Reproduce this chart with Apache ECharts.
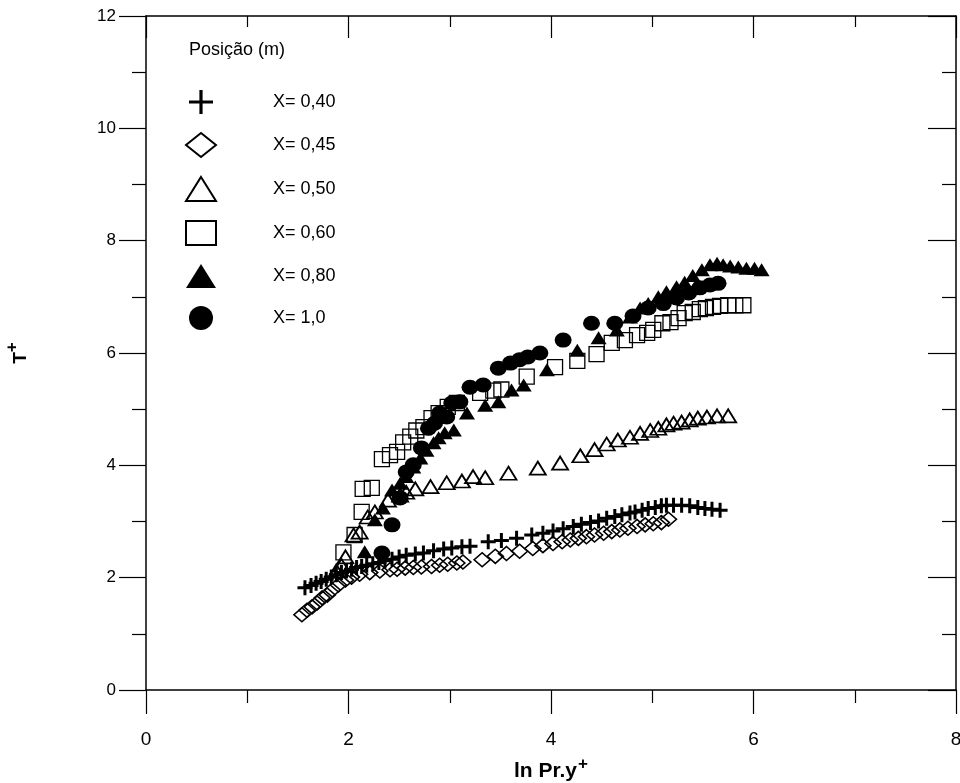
<!DOCTYPE html>
<html>
<head>
<meta charset="utf-8">
<script src="https://cdn.jsdelivr.net/npm/echarts@6/dist/echarts.min.js"></script>
<style>
  html, body { margin: 0; padding: 0; background: #fff; }
  #chart { width: 960px; height: 783px; }
</style>
</head>
<body>
<div id="chart"></div>
<script>
// [ln Pr.y+, T+]
const plus40 = [[1.57,1.82],[1.63,1.86],[1.68,1.90],[1.73,1.93],[1.78,1.97],[1.83,2.01],[1.88,2.05],[1.93,2.09],[1.98,2.12],[2.03,2.15],[2.08,2.18],[2.13,2.20],[2.18,2.22],[2.24,2.25],[2.30,2.27],[2.36,2.30],[2.43,2.33],[2.50,2.37],[2.57,2.40],[2.66,2.42],[2.74,2.44],[2.84,2.48],[2.94,2.51],[3.02,2.53],[3.12,2.55],[3.20,2.56],[3.38,2.64],[3.51,2.66],[3.66,2.70],[3.81,2.76],[3.92,2.79],[4.02,2.83],[4.12,2.87],[4.22,2.91],[4.30,2.95],[4.39,2.98],[4.47,3.01],[4.55,3.06],[4.63,3.09],[4.70,3.12],[4.78,3.15],[4.83,3.17],[4.90,3.20],[4.96,3.23],[5.03,3.25],[5.09,3.28],[5.14,3.29],[5.21,3.29],[5.29,3.29],[5.37,3.28],[5.45,3.25],[5.52,3.23],[5.59,3.22],[5.67,3.20]]
const diamond45 = [[1.54,1.34],[1.59,1.42],[1.64,1.48],[1.69,1.55],[1.74,1.64],[1.79,1.69],[1.84,1.78],[1.90,1.87],[1.97,1.96],[2.03,2.01],[2.11,2.06],[2.21,2.09],[2.31,2.12],[2.41,2.14],[2.48,2.15],[2.56,2.17],[2.64,2.18],[2.72,2.19],[2.82,2.20],[2.90,2.22],[2.98,2.24],[3.07,2.26],[3.13,2.28],[3.32,2.32],[3.45,2.38],[3.56,2.43],[3.69,2.47],[3.82,2.52],[3.92,2.57],[4.02,2.61],[4.11,2.64],[4.19,2.67],[4.27,2.70],[4.35,2.73],[4.43,2.76],[4.52,2.79],[4.60,2.82],[4.68,2.85],[4.76,2.88],[4.85,2.91],[4.93,2.94],[5.01,2.96],[5.09,2.98],[5.16,3.04]]
const triangle50 = [[1.88,2.12],[1.93,2.22],[1.97,2.37],[2.05,2.76],[2.11,2.81],[2.19,3.08],[2.26,3.17],[2.39,3.38],[2.51,3.47],[2.57,3.52],[2.66,3.58],[2.81,3.62],[2.97,3.69],[3.12,3.72],[3.23,3.80],[3.35,3.78],[3.58,3.86],[3.87,3.95],[4.09,4.04],[4.29,4.17],[4.43,4.28],[4.55,4.38],[4.66,4.45],[4.78,4.50],[4.88,4.57],[4.98,4.62],[5.06,4.66],[5.14,4.72],[5.21,4.75],[5.29,4.77],[5.37,4.81],[5.45,4.84],[5.54,4.86],[5.64,4.88],[5.75,4.88]]
const square60 = [[1.95,2.45],[2.06,2.76],[2.13,3.17],[2.14,3.58],[2.23,3.60],[2.33,4.11],[2.41,4.18],[2.48,4.24],[2.54,4.41],[2.61,4.51],[2.67,4.62],[2.74,4.68],[2.82,4.84],[2.89,4.93],[2.98,5.04],[3.07,5.11],[3.30,5.29],[3.43,5.33],[3.51,5.35],[3.76,5.58],[4.04,5.75],[4.26,5.86],[4.45,5.98],[4.60,6.18],[4.73,6.23],[4.85,6.32],[4.95,6.36],[5.01,6.41],[5.10,6.53],[5.18,6.55],[5.26,6.62],[5.32,6.71],[5.40,6.73],[5.47,6.78],[5.53,6.80],[5.60,6.82],[5.67,6.84],[5.75,6.85],[5.82,6.85],[5.90,6.85]]
const triangle80 = [[2.16,2.46],[2.26,3.03],[2.34,3.24],[2.43,3.56],[2.51,3.68],[2.57,3.80],[2.64,3.97],[2.71,4.13],[2.77,4.27],[2.84,4.40],[2.89,4.49],[2.95,4.58],[3.04,4.63],[3.17,4.93],[3.35,5.07],[3.48,5.13],[3.61,5.34],[3.73,5.43],[3.96,5.70],[4.26,6.05],[4.47,6.27],[4.65,6.41],[4.78,6.64],[4.88,6.80],[4.96,6.88],[5.06,7.00],[5.14,7.09],[5.24,7.18],[5.32,7.26],[5.40,7.38],[5.49,7.48],[5.57,7.57],[5.64,7.60],[5.70,7.57],[5.77,7.55],[5.85,7.53],[5.93,7.51],[6.01,7.51],[6.08,7.48]]
const circle10 = [[2.33,2.44],[2.43,2.94],[2.51,3.42],[2.57,3.88],[2.64,4.01],[2.72,4.31],[2.79,4.66],[2.85,4.75],[2.90,4.93],[2.97,4.86],[3.02,5.11],[3.10,5.13],[3.20,5.39],[3.33,5.43],[3.48,5.73],[3.60,5.82],[3.69,5.88],[3.77,5.93],[3.89,6.00],[4.12,6.23],[4.40,6.53],[4.63,6.53],[4.81,6.66],[4.96,6.80],[5.11,6.88],[5.24,6.98],[5.36,7.07],[5.47,7.16],[5.57,7.21],[5.65,7.24]]

const names = ['X= 0,40', 'X= 0,45', 'X= 0,50', 'X= 0,60', 'X= 0,80', 'X= 1,0']

const PLUS = 'path://M4,0H6V4H10V6H6V10H4V6H0V4H4Z'
const PLUS_BIG = 'path://M13,0H17V13H30V17H17V30H13V17H0V13H13Z'
const ELLIPSE = 'path://M0,5A5,5 0 1,1 10,5A5,5 0 1,1 0,5Z'
const FONT = "'Liberation Sans', Arial, sans-serif"
const NARROW = "'Liberation Sans Narrow', " + FONT

const chart = echarts.init(document.getElementById('chart'))

function ticksAxis(extra) {
  return Object.assign({
    type: 'value',
    axisLine: { show: true, onZero: false, lineStyle: { color: '#000', width: 1.5 } },
    splitLine: { show: false }
  }, extra)
}

function scatter(name, data, symbol, size, filled, border) {
  return {
    name: name,
    type: 'scatter',
    data: data,
    symbol: symbol,
    symbolSize: size,
    symbolKeepAspect: false,
    itemStyle: {
      color: filled ? '#000' : 'rgba(0,0,0,0)',
      borderColor: '#000',
      borderWidth: border,
      opacity: 1
    }
  }
}

chart.setOption({
  animation: false,
  title: {
    text: 'Posição (m)',
    left: 184,
    top: 36,
    textStyle: { fontFamily: FONT, fontSize: 18, fontWeight: 'normal', color: '#000' }
  },
  legend: {
    orient: 'vertical',
    left: 180,
    top: 85,
    itemWidth: 30,
    itemHeight: 24,
    itemGap: 18,
    textStyle: { fontFamily: FONT, fontSize: 18, color: '#000', padding: [0, 0, 0, 52] },
    data: [
      { name: names[0], icon: PLUS_BIG },
      { name: names[1], icon: 'diamond' },
      { name: names[2], icon: 'triangle' },
      { name: names[3], icon: 'rect' },
      { name: names[4], icon: 'triangle' },
      { name: names[5], icon: ELLIPSE }
    ]
  },
  grid: { left: 146, right: 4, top: 16, bottom: 93, outerBoundsMode: 'none' },
  xAxis: [
    ticksAxis({
      min: 0, max: 8, interval: 2,
      position: 'bottom',
      name: '{t|ln Pr.y}{p|+}',
      nameLocation: 'middle',
      nameGap: 66,
      nameTextStyle: {
        rich: {
          t: { fontFamily: NARROW, fontSize: 21, fontWeight: 'bold', color: '#000', verticalAlign: 'bottom' },
          p: { fontFamily: FONT, fontSize: 17, fontWeight: 'bold', color: '#000', verticalAlign: 'bottom', padding: [0, 0, 9, 1] }
        }
      },
      axisTick: { show: true, inside: false, length: 24, lineStyle: { color: '#000', width: 1.2 } },
      minorTick: { show: true, splitNumber: 2, length: 13, lineStyle: { color: '#000', width: 1.2 } },
      axisLabel: { margin: 40, fontFamily: NARROW, fontSize: 19, color: '#000' }
    }),
    ticksAxis({
      min: 0, max: 8, interval: 2,
      position: 'top',
      axisTick: { show: true, inside: true, length: 22, lineStyle: { color: '#000', width: 1.2 } },
      minorTick: { show: true, splitNumber: 2, length: 11, lineStyle: { color: '#000', width: 1.2 } },
      axisLabel: { show: false }
    })
  ],
  yAxis: [
    ticksAxis({
      min: 0, max: 12, interval: 2,
      position: 'left',
      name: '{t|T}{p|+}',
      nameLocation: 'middle',
      nameRotate: 90,
      nameGap: 116,
      nameTextStyle: {
        rich: {
          t: { fontFamily: FONT, fontSize: 19, fontWeight: 'bold', color: '#000', verticalAlign: 'bottom' },
          p: { fontFamily: FONT, fontSize: 17, fontWeight: 'bold', color: '#000', verticalAlign: 'bottom', padding: [0, 0, 9, 0] }
        }
      },
      axisTick: { show: true, inside: false, length: 27, lineStyle: { color: '#000', width: 1.2 } },
      minorTick: { show: true, splitNumber: 2, length: 14, lineStyle: { color: '#000', width: 1.2 } },
      axisLabel: { margin: 30, fontFamily: FONT, fontSize: 17, color: '#000' }
    }),
    ticksAxis({
      min: 0, max: 12, interval: 2,
      position: 'right',
      axisTick: { show: true, inside: true, length: 28, lineStyle: { color: '#000', width: 1.2 } },
      minorTick: { show: true, splitNumber: 2, length: 14, lineStyle: { color: '#000', width: 1.2 } },
      axisLabel: { show: false }
    })
  ],
  series: [
    scatter(names[0], plus40, PLUS, [15, 15], true, 0),
    scatter(names[1], diamond45, 'diamond', [16, 14], false, 1.6),
    scatter(names[2], triangle50, 'triangle', [16, 13], false, 1.8),
    scatter(names[3], square60, 'rect', [15, 15], false, 1.3),
    scatter(names[4], triangle80, 'triangle', [16, 13], true, 0),
    scatter(names[5], circle10, ELLIPSE, [17, 15], true, 0)
  ]
})
</script>
</body>
</html>
